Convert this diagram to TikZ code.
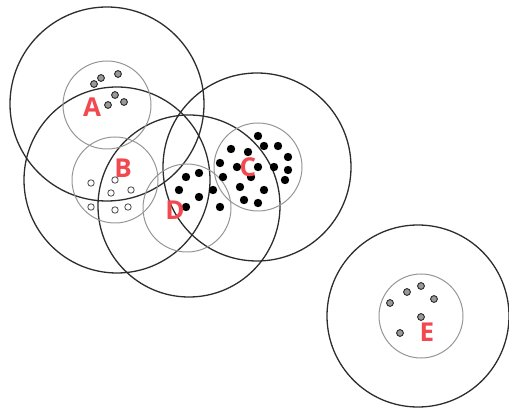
\documentclass[tikz,border=0pt]{standalone}
\usepackage{fontspec}
\setmainfont{Open Sans}
\definecolor{lblred}{RGB}{242,72,80}
\definecolor{bigline}{RGB}{45,45,45}
\definecolor{smallline}{RGB}{150,150,150}
\tikzset{
  bigc/.style={draw=bigline,line width=1.3pt},
  smallc/.style={draw=smallline,line width=1pt},
  blackdot/.style={fill=black},
  greydot/.style={fill=gray!80,draw=black!85,line width=0.9pt},
  opendot/.style={draw=black!65,line width=0.9pt,fill=white},
  lbl/.style={text=lblred,font=\fontsize{26}{26}\selectfont\bfseries,inner sep=0pt}
}
\begin{document}
\begin{tikzpicture}[x=1pt,y=-1pt]
\useasboundingbox (0,0) rectangle (509,414);
% big circles
\draw[bigc] (107,104) circle (97);
\draw[bigc] (117,180) circle (93);
\draw[bigc] (189,206) circle (91);
\draw[bigc] (257,167) circle (94);
\draw[bigc] (418,316) circle (91);
% small circles
\draw[smallc] (107,105) circle (44);
\draw[smallc] (115,180) circle (43);
\draw[smallc] (187,208) circle (44);
\draw[smallc] (258,167) circle (44);
\draw[smallc] (421,316) circle (42);
% A dots
\foreach \p in {(94,84),(101,78),(118,74),(115,95),(108,105),(124,102)}
  \draw[greydot] \p circle (3.4);
% B dots
\foreach \p in {(91,183),(115,180),(111,193),(131,190),(91,207),(115,210),(128,207)}
  \draw[opendot] \p circle (3.2);
% D dots
\foreach \p in {(186,177),(199,173),(179,190),(199,197),(213,190),(186,207),(220,207)}
  \fill[blackdot] \p circle (4.2);
% C dots
\foreach \p in {(258,136),(231,149),(248,152),(264,146),(278,146),(288,157),(220,163),(237,167),(258,167),(274,167),(288,170),(223,177),(251,177),(285,180),(240,187),(264,190),(244,200),(258,203)}
  \fill[blackdot] \p circle (4.2);
% E dots
\foreach \p in {(421,286),(407,292),(390,303),(434,299),(421,317),(400,333)}
  \draw[greydot] \p circle (3.4);
% labels
\node[lbl] (la) at (92,107) {A};
\node[lbl] (lb) at (123,168) {B};
\node[lbl] (lc) at (248,167) {C};
\node[lbl] (ld) at (175,210) {D};
\node[lbl] (le) at (427,332) {E};
\end{tikzpicture}
\end{document}
